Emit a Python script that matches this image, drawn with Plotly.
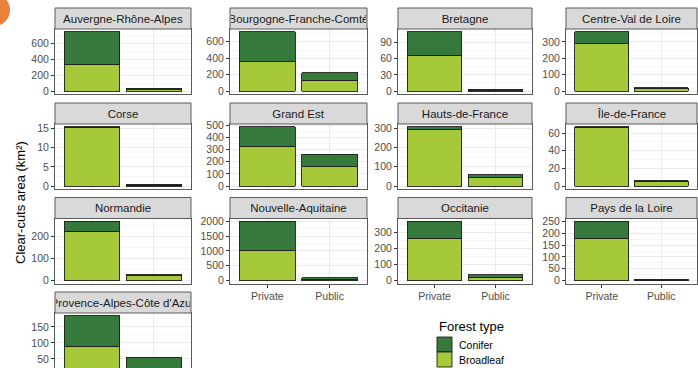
import plotly.graph_objects as go

# Clear-cut area by region, ownership and forest type (km²)
regions = [
    "Auvergne-Rhône-Alpes", "Bourgogne-Franche-Comté", "Bretagne", "Centre-Val de Loire",
    "Corse", "Grand Est", "Hauts-de-France", "Île-de-France",
    "Normandie", "Nouvelle-Aquitaine", "Occitanie", "Pays de la Loire",
    "Provence-Alpes-Côte d'Azur",
]
ownership = ["Private", "Public"]
broadleaf_private = [335, 360, 67, 288, 15.3, 328, 295, 66, 222, 1005, 267, 179, 89]
conifer_private = [410, 360, 43, 73, 0.1, 158, 12, 1, 45, 985, 104, 71, 95]
broadleaf_public = [15, 130, 1, 16, 0.25, 158, 45, 5.5, 23, 40, 20, 2, 10]
conifer_public = [20, 90, 2, 5, 0.25, 102, 13, 0.5, 3, 55, 17, 3, 45]
tick_steps = [200, 200, 30, 100, 5, 100, 100, 20, 100, 500, 100, 50, 50]
forest_types = ["Conifer", "Broadleaf"]

CONIFER = "#357a3a"
BROADLEAF = "#a6c93a"
OUTLINE = "#1e1e1e"
BORDER = "#5a5a5a"
GRID = "#ebebeb"
GRID_MINOR = "#f5f5f5"
FONT = "Liberation Sans, Arial, sans-serif"

W, H = 698, 368
NCOL = 4
# panel geometry in pixels
col_px = [(55, 191), (230, 367), (398, 532), (566, 697)]
row_px = [(8, 29, 94), (103, 124, 189), (197.5, 218.5, 283.5), (292, 313, 378)]


def px_x(v):
    return v / W


def px_y(v):
    return 1 - v / H


fig = go.Figure()
shapes = []
annotations = []
layout = {}

n = len(regions)
for i, region in enumerate(regions):
    r, c = divmod(i, NCOL)
    sfx = "" if i == 0 else str(i + 1)
    x0, x1 = col_px[c]
    s_top, p_top, p_bot = row_px[r]
    bottom_of_column = i + NCOL >= n
    # the last row runs past the lower edge of the figure
    labels_visible = bottom_of_column and p_bot <= H

    fig.add_trace(go.Bar(
        x=ownership, y=[broadleaf_private[i], broadleaf_public[i]],
        name="Broadleaf", marker=dict(color=BROADLEAF, line=dict(color=OUTLINE, width=0.9)),
        xaxis="x" + sfx, yaxis="y" + sfx, showlegend=False, hoverinfo="skip",
    ))
    fig.add_trace(go.Bar(
        x=ownership, y=[conifer_private[i], conifer_public[i]],
        name="Conifer", marker=dict(color=CONIFER, line=dict(color=OUTLINE, width=0.9)),
        xaxis="x" + sfx, yaxis="y" + sfx, showlegend=False, hoverinfo="skip",
    ))

    top_total = max(broadleaf_private[i] + conifer_private[i],
                    broadleaf_public[i] + conifer_public[i])
    lo, hi = -0.05 * top_total, 1.05 * top_total
    vis_bot = min(p_bot, H)
    if p_bot > H:
        lo = hi - (hi - lo) * (vis_bot - p_top) / (p_bot - p_top)

    layout["xaxis" + sfx] = dict(
        domain=[px_x(x0), px_x(x1)], anchor="y" + sfx, type="category",
        categoryorder="array", categoryarray=ownership, range=[-0.6, 1.6],
        showgrid=True, gridcolor=GRID, gridwidth=1, automargin=False,
        showline=True, mirror=True, linecolor=BORDER, linewidth=1,
        ticks="outside" if bottom_of_column else "", ticklen=3, tickcolor="#333",
        showticklabels=labels_visible,
        tickfont=dict(family=FONT, size=10.5, color="#4d4d4d"), zeroline=False,
    )
    step = tick_steps[i]
    layout["yaxis" + sfx] = dict(
        domain=[px_y(vis_bot), px_y(p_top)], anchor="x" + sfx,
        range=[lo, hi], tickmode="linear", tick0=0, dtick=step,
        showgrid=True, gridcolor=GRID, gridwidth=1, automargin=False,
        minor=dict(tick0=0, dtick=step / 2, showgrid=True, gridcolor=GRID_MINOR, ticks=""),
        showline=True, mirror=True, linecolor=BORDER, linewidth=1,
        ticks="outside", ticklen=3, tickcolor="#333",
        tickfont=dict(family=FONT, size=10.5, color="#4d4d4d"), zeroline=False,
    )

    # facet strip
    shapes.append(dict(
        type="rect", xref="paper", yref="paper",
        x0=px_x(x0), x1=px_x(x1), y0=px_y(p_top), y1=px_y(s_top),
        fillcolor="#d9d9d9", line=dict(color=BORDER, width=1), layer="above",
    ))
    annotations.append(dict(
        xref="paper", yref="paper", x=px_x((x0 + x1) / 2), y=px_y((s_top + p_top) / 2),
        xanchor="center", yanchor="middle", text=region, showarrow=False,
        width=x1 - x0 - 2, height=p_top - s_top - 2, align="center",
        font=dict(family=FONT, size=11.5, color="#1a1a1a"),
    ))

# y axis title
annotations.append(dict(
    xref="paper", yref="paper", x=px_x(21), y=px_y(203), text="Clear-cuts area (km²)",
    textangle=-90, showarrow=False, xanchor="center", yanchor="middle",
    font=dict(family=FONT, size=13, color="#000000"),
))

# legend
leg_x = 437
annotations.append(dict(
    xref="paper", yref="paper", x=px_x(leg_x), y=px_y(326), text="Forest type",
    showarrow=False, xanchor="left", yanchor="middle",
    font=dict(family=FONT, size=13, color="#000000"),
))
key_colors = {"Conifer": CONIFER, "Broadleaf": BROADLEAF}
key_top = 337
key_h = 15
for k, ft in enumerate(forest_types):
    t = key_top + k * key_h
    shapes.append(dict(
        type="rect", xref="paper", yref="paper",
        x0=px_x(leg_x), x1=px_x(leg_x + 15), y0=px_y(t + key_h), y1=px_y(t),
        fillcolor=key_colors[ft], line=dict(color=OUTLINE, width=0.9),
    ))
    annotations.append(dict(
        xref="paper", yref="paper", x=px_x(leg_x + 20), y=px_y(t + key_h / 2), text=ft,
        showarrow=False, xanchor="left", yanchor="middle",
        font=dict(family=FONT, size=10.5, color="#000000"),
    ))

# panel-label badge in the corner
shapes.append(dict(
    type="circle", xref="paper", yref="paper",
    x0=px_x(-22.5), x1=px_x(10), y0=px_y(26.25), y1=px_y(-6.25),
    fillcolor="#e8823a", line=dict(width=0),
))

fig.update_layout(
    width=W, height=H, margin=dict(l=0, r=0, t=0, b=0, autoexpand=False),
    paper_bgcolor="white", plot_bgcolor="white",
    barmode="stack", bargap=0.1, showlegend=False,
    shapes=shapes, annotations=annotations,
    font=dict(family=FONT),
    **layout,
)

fig.write_html("out.html")
